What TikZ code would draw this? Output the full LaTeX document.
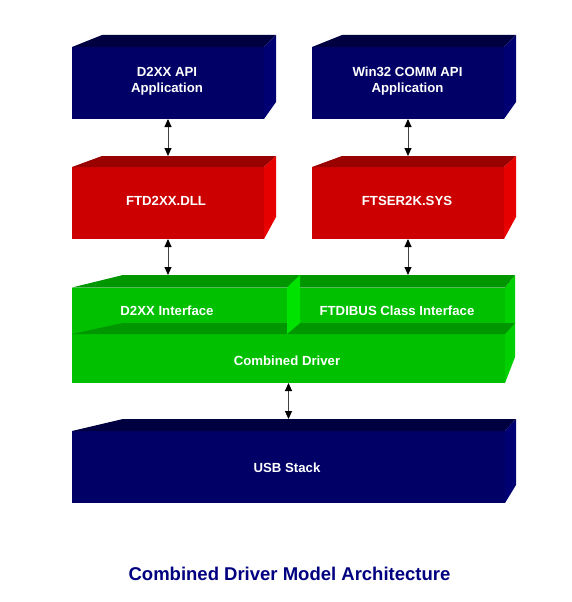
\documentclass[tikz,border=0pt]{standalone}
\usepackage{fontspec}
\setmainfont{Liberation Sans}
\usetikzlibrary{arrows.meta}
\definecolor{bluF}{RGB}{0,0,102}
\definecolor{bluT}{RGB}{0,0,64}
\definecolor{bluR}{RGB}{0,0,114}
\definecolor{redF}{RGB}{204,0,0}
\definecolor{redT}{RGB}{153,0,0}
\definecolor{redR}{RGB}{230,0,0}
\definecolor{grnF}{RGB}{0,192,0}
\definecolor{grnT}{RGB}{0,150,0}
\definecolor{grnR}{RGB}{0,208,0}
\definecolor{grnL}{RGB}{0,226,0}
\definecolor{arrgray}{RGB}{64,64,64}
\definecolor{titleblue}{RGB}{0,0,128}
% #1 x0, #2 x1, #3 back-left x, #4 back-right x, #5 back-top y, #6 front-top y, #7 bottom y, #8 right-face bottom y, #9 colour prefix
\newcommand{\mycube}[9]{%
  \fill[#9F] (#1,#6) rectangle (#2,#7);
  \fill[#9T] (#1,#6) -- (#3,#5) -- (#4,#5) -- (#2,#6) -- cycle;
  \fill[#9R] (#2,#6) -- (#4,#5) -- (#4,#8) -- (#2,#7) -- cycle;
}
\tikzset{
  shp/.style={inner sep=0pt, outer sep=0pt, draw=none},
  lbl/.style={text=white, inner sep=0pt, font=\bfseries\fontsize{13.2}{16}\selectfont, align=center},
  biarrow/.style={draw=arrgray, line width=0.9pt,
    {Triangle[length=8pt,width=7pt,black]}-{Triangle[length=8pt,width=7pt,black]}}
}
\begin{document}
\begin{tikzpicture}[x=1pt,y=-1pt]
\useasboundingbox (0,0) rectangle (572,602);
\fill[white] (0,0) rectangle (572,602);

% top row
\mycube{72}{264}{102}{276}{35}{47}{119}{102}{blu}
\mycube{312}{504}{342}{516}{35}{47}{119}{102}{blu}
% second row
\mycube{72}{264}{102}{276}{156}{167}{239}{217}{red}
\mycube{312}{504}{342}{516}{156}{167}{239}{217}{red}
% USB stack
\mycube{72}{505}{123}{516}{419}{431}{503}{485}{blu}

% green combined driver block
\fill[grnF] (72,287.5) rectangle (505,383);
\fill[grnR] (505,287.5) -- (515,275) -- (515,357) -- (505,383) -- cycle;
\fill[grnT] (72,287.5) -- (123,275) -- (515,275) -- (505,287.5) -- cycle;
\fill[grnT] (72,334) -- (123,323) -- (515,323) -- (505,334) -- cycle;
\fill[grnL] (287,287.5) -- (300,275) -- (300,323) -- (287,334) -- cycle;

% invisible shape nodes
\node[shp, minimum width=192pt, minimum height=84pt] (app1) at (168,77) {};
\node[shp, minimum width=192pt, minimum height=84pt] (app2) at (408,77) {};
\node[shp, minimum width=192pt, minimum height=83pt] (dll) at (168,197.5) {};
\node[shp, minimum width=192pt, minimum height=83pt] (sys) at (408,197.5) {};
\node[shp, minimum width=215pt, minimum height=59pt] (d2xx) at (179.5,304.5) {};
\node[shp, minimum width=205pt, minimum height=48pt] (ftdi) at (402.5,299) {};
\node[shp, minimum width=433pt, minimum height=60pt] (comb) at (288.5,353) {};
\node[shp, minimum width=433pt, minimum height=84pt] (usb) at (288.5,461) {};

% labels
\node[lbl, anchor=north] (t1) at (167,66.7) {D2XX API\\Application};
\node[lbl, anchor=north] (t2) at (407.5,66.7) {Win32 COMM API\\Application};
\node[lbl, anchor=base] (t3) at (166,205.7) {FTD2XX.DLL};
\node[lbl, anchor=base] (t4) at (407,205.7) {FTSER2K.SYS};
\node[lbl, anchor=base] (t5) at (167,315) {D2XX Interface};
\node[lbl, anchor=base] (t6) at (397,315) {FTDIBUS Class Interface};
\node[lbl, anchor=base] (t7) at (287,365) {Combined Driver};
\node[lbl, anchor=base] (t8) at (287,472.7) {USB Stack};
\node[anchor=base, inner sep=0pt, text=titleblue, font=\bfseries\fontsize{18.5}{22}\selectfont] (title) at (289.5,580) {Combined Driver Model Architecture};

% connectors
\draw[biarrow] (app1.south) -- (dll.north);
\draw[biarrow] (app2.south) -- (sys.north);
\draw[biarrow] (dll.south) -- (dll.south |- d2xx.north);
\draw[biarrow] (sys.south) -- (sys.south |- ftdi.north);
\draw[biarrow] (comb.south) -- (usb.north);
\end{tikzpicture}
\end{document}
